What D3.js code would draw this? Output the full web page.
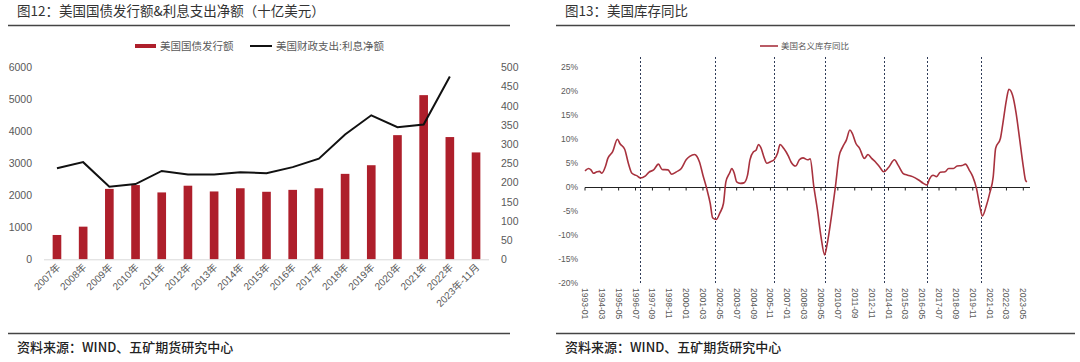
<!DOCTYPE html>
<html>
<head>
<meta charset="utf-8">
<script src="https://cdn.jsdelivr.net/npm/d3@7"></script>
<style>
  body { margin: 0; background: #fff; }
  svg { display: block; }
  .num { font-family: "Liberation Sans", "Noto Sans CJK SC", sans-serif; fill: #595959; }
  .cjk { font-family: "Noto Sans CJK SC", sans-serif; }
</style>
</head>
<body>
<svg id="chart" width="1080" height="362"></svg>
<script>
// ---- left chart data (十亿美元) ----
const years = ["2007年", "2008年", "2009年", "2010年", "2011年", "2012年", "2013年", "2014年", "2015年",
    "2016年", "2017年", "2018年", "2019年", "2020年", "2021年", "2022年", "2023年-11月"];
const issuance = [760, 1020, 2200, 2320, 2090, 2300, 2120, 2220, 2110, 2170, 2220, 2670, 2940, 3880, 5130, 3820, 3340];
// interest line stops at 2022
const interest = [237, 253, 189, 196, 230, 221, 221, 227, 224, 240, 262, 325, 375, 344, 351, 476];
const leftTicks = [0, 1000, 2000, 3000, 4000, 5000, 6000];
const rightTicks = [0, 50, 100, 150, 200, 250, 300, 350, 400, 450, 500];

// ---- right chart data (美国名义库存同比, %) ----
const invDates = ["1993-01", "1993-04", "1993-06", "1993-08", "1993-11", "1994-01", "1994-03", "1994-06", "1994-08", "1994-12",
    "1995-04", "1995-06", "1995-10", "1996-01", "1996-04", "1996-08", "1996-11", "1997-03", "1997-06", "1997-10",
    "1998-02", "1998-05", "1998-10", "1999-01", "1999-05", "1999-09", "2000-01", "2000-04", "2000-08", "2000-10",
    "2000-12", "2001-03", "2001-06", "2001-09", "2001-11", "2002-02", "2002-05", "2002-08", "2002-10", "2003-01",
    "2003-03", "2003-05", "2003-07", "2003-10", "2004-01", "2004-04", "2004-06", "2004-09", "2004-11", "2005-01",
    "2005-03", "2005-06", "2005-08", "2005-11", "2006-02", "2006-05", "2006-07", "2006-10", "2007-02", "2007-04",
    "2007-08", "2007-11", "2008-02", "2008-06", "2008-08", "2008-11", "2009-02", "2009-05", "2009-08", "2009-10",
    "2010-02", "2010-05", "2010-08", "2010-11", "2011-02", "2011-05", "2011-07", "2011-10", "2012-01", "2012-05",
    "2012-08", "2012-11", "2013-02", "2013-06", "2013-09", "2014-01", "2014-06", "2014-09", "2015-01", "2015-05",
    "2015-09", "2016-02", "2016-06", "2016-09", "2016-11", "2017-02", "2017-05", "2017-08", "2017-12", "2018-03",
    "2018-07", "2018-10", "2019-02", "2019-05", "2019-08", "2019-11", "2020-02", "2020-05", "2020-07", "2020-10",
    "2021-01", "2021-04", "2021-06", "2021-10", "2021-12", "2022-03", "2022-05", "2022-08", "2022-11", "2023-02",
    "2023-05", "2023-07", "2023-08"];
const invYoY = [3.3, 3.8, 3.5, 2.8, 3.1, 3.2, 2.8, 4.2, 5.9, 7.3,
    9.9, 9.0, 7.8, 4.9, 2.8, 2.3, 1.8, 2.2, 3.0, 3.5,
    4.7, 3.6, 3.5, 2.6, 3.1, 3.8, 5.6, 6.3, 6.7, 6.3,
    5.2, 2.4, -0.3, -3.5, -6.5, -6.8, -5.5, -3.5, 1.0, 2.8,
    3.8, 2.8, 1.0, 0.7, 0.8, 2.4, 5.6, 7.3, 7.6, 8.8,
    8.2, 5.9, 4.9, 5.2, 5.6, 7.0, 8.8, 8.0, 6.3, 5.2,
    4.3, 5.6, 6.0, 5.6, 5.8, 0.0, -4.9, -10.4, -14.2, -12.1,
    -5.5, 0.0, 6.3, 8.3, 9.7, 11.8, 11.1, 9.0, 8.0, 5.9,
    6.7, 5.9, 5.2, 4.0, 3.1, 4.0, 5.6, 4.5, 2.8, 2.4,
    2.1, 1.4, 0.7, 0.35, 1.6, 2.4, 2.1, 3.0, 3.1, 3.8,
    3.8, 4.3, 4.4, 4.7, 3.5, 2.1, -0.3, -4.2, -6.1, -4.2,
    -1.4, 2.1, 8.0, 10.1, 13.2, 18.1, 20.3, 19.1, 15.3, 9.7,
    4.2, 1.25, 1.0];
const monthLabels = ["1993-01", "1994-03", "1995-05", "1996-07", "1997-09", "1998-11", "2000-01", "2001-03", "2002-05",
    "2003-07", "2004-09", "2005-11", "2007-01", "2008-03", "2009-05", "2010-07", "2011-09", "2012-11", "2014-01",
    "2015-03", "2016-05", "2017-07", "2018-09", "2019-11", "2021-01", "2022-03", "2023-05"];
const dashDates = ["1996-11", "2002-01", "2006-02", "2009-08", "2013-09", "2016-09", "2020-06"];
const pctTicks = [-20, -15, -10, -5, 0, 5, 10, 15, 20, 25];

const svg = d3.select("#chart");
const barColor = "#ae1f2b";
const invColor = "#a8323e";

// title, rule lines and source note for one panel
function panelFrame(x0, x1, title) {
    svg.append("text").attr("class", "cjk").attr("x", x0 + 9).attr("y", 16)
        .attr("font-size", 13.5).attr("fill", "#333").text(title);
    svg.append("line").attr("x1", x0).attr("x2", x1).attr("y1", 25.5).attr("y2", 25.5)
        .attr("stroke", "#444").attr("stroke-width", 1.3);
    svg.append("line").attr("x1", x0).attr("x2", x1).attr("y1", 333.5).attr("y2", 333.5)
        .attr("stroke", "#444").attr("stroke-width", 1.3);
    svg.append("text").attr("class", "cjk").attr("x", x0 + 9).attr("y", 352)
        .attr("font-size", 13).attr("font-weight", 500).attr("fill", "#222")
        .text("资料来源：WIND、五矿期货研究中心");
}

panelFrame(8, 510, "图12：美国国债发行额&利息支出净额（十亿美元）");
panelFrame(556, 1075, "图13：美国库存同比");

// ================= left chart =================
let x = d3.scaleBand().domain(years).range([44, 489]).paddingInner(0.67).paddingOuter(0.33);
let yL = d3.scaleLinear().domain([0, 6000]).range([259.3, 67.3]);
let yR = d3.scaleLinear().domain([0, 500]).range([259.3, 67.3]);

let gL = svg.append("g").attr("transform", "translate(36,0)")
    .call(d3.axisLeft(yL).tickValues(leftTicks).tickSize(0).tickPadding(4).tickFormat(d3.format("d")));
let gR = svg.append("g").attr("transform", "translate(497,0)")
    .call(d3.axisRight(yR).tickValues(rightTicks).tickSize(0).tickPadding(4).tickFormat(d3.format("d")));
[gL, gR].forEach(g => {
    g.select(".domain").remove();
    g.selectAll("text").attr("class", "num").attr("font-size", 10.5);
});

svg.append("g").selectAll("rect")
    .data(issuance)
    .enter().append("rect")
    .attr("x", (d, i) => x(years[i]))
    .attr("y", d => yL(d))
    .attr("width", x.bandwidth())
    .attr("height", d => yL(0) - yL(d))
    .attr("fill", barColor);

svg.append("line").attr("x1", 44).attr("x2", 489).attr("y1", yL(0) + 0.5).attr("y2", yL(0) + 0.5)
    .attr("stroke", "#d9d9d9");

let interestLine = d3.line()
    .x((d, i) => x(years[i]) + x.bandwidth() / 2)
    .y(d => yR(d));
svg.append("path").datum(interest)
    .attr("d", interestLine)
    .attr("fill", "none").attr("stroke", "#111").attr("stroke-width", 2);

// rotated category labels
svg.append("g").selectAll("text")
    .data(years)
    .enter().append("text")
    .attr("class", "num")
    .attr("font-size", 10)
    .attr("text-anchor", "end")
    .attr("transform", d => `translate(${x(d) + x.bandwidth() / 2 + 4},${268}) rotate(-45)`)
    .text(d => d);

// legend
svg.append("rect").attr("x", 135).attr("y", 44).attr("width", 21).attr("height", 4).attr("fill", barColor);
svg.append("text").attr("class", "num").attr("x", 160).attr("y", 50).attr("font-size", 10.5).text("美国国债发行额");
svg.append("line").attr("x1", 250).attr("x2", 272).attr("y1", 46).attr("y2", 46).attr("stroke", "#111").attr("stroke-width", 2);
svg.append("text").attr("class", "num").attr("x", 276).attr("y", 50).attr("font-size", 10.5).text("美国财政支出:利息净额");

// ================= right chart =================
const parseMonth = d3.timeParse("%Y-%m");
let xt = d3.scaleTime().domain([parseMonth("1993-01"), parseMonth("2023-05")]).range([585, 1023.3]);
let yP = d3.scaleLinear().domain([-20, 25]).range([282.7, 66.7]);

let gP = svg.append("g").attr("transform", "translate(581,0)")
    .call(d3.axisLeft(yP).tickValues(pctTicks).tickSize(0).tickPadding(3).tickFormat(d => d + "%"));
gP.select(".domain").remove();
gP.selectAll("text").attr("class", "num").attr("font-size", 8.5);

// dashed turning-point markers
svg.append("g").selectAll("line")
    .data(dashDates)
    .enter().append("line")
    .attr("x1", d => Math.round(xt(parseMonth(d))) + 0.5)
    .attr("x2", d => Math.round(xt(parseMonth(d))) + 0.5)
    .attr("y1", 57).attr("y2", 283)
    .attr("stroke", "#2f3b58").attr("stroke-width", 1).attr("stroke-dasharray", "2,2");

// zero axis with ticks
let y0 = Math.round(yP(0)) + 0.5;
svg.append("line").attr("x1", 585).attr("x2", 1030).attr("y1", y0).attr("y2", y0)
    .attr("stroke", "#222").attr("stroke-width", 1);
svg.append("g").selectAll("line")
    .data(monthLabels)
    .enter().append("line")
    .attr("x1", d => xt(parseMonth(d))).attr("x2", d => xt(parseMonth(d)))
    .attr("y1", y0).attr("y2", y0 + 3)
    .attr("stroke", "#222");

let invData = invDates.map((d, i) => ({date: parseMonth(d), value: invYoY[i]}));
svg.append("path").datum(invData)
    .attr("d", d3.line().x(d => xt(d.date)).y(d => yP(d.value)).curve(d3.curveMonotoneX))
    .attr("fill", "none").attr("stroke", invColor).attr("stroke-width", 1.6);

// vertical month labels
svg.append("g").selectAll("text")
    .data(monthLabels)
    .enter().append("text")
    .attr("class", "num")
    .attr("font-size", 8.5)
    .attr("dy", "0.35em")
    .attr("transform", d => `translate(${xt(parseMonth(d))},288) rotate(90)`)
    .text(d => d);

// legend
svg.append("line").attr("x1", 760).attr("x2", 778).attr("y1", 46).attr("y2", 46).attr("stroke", invColor).attr("stroke-width", 1.6);
svg.append("text").attr("class", "num").attr("x", 781).attr("y", 49).attr("font-size", 8.5).text("美国名义库存同比");
</script>
</body>
</html>
